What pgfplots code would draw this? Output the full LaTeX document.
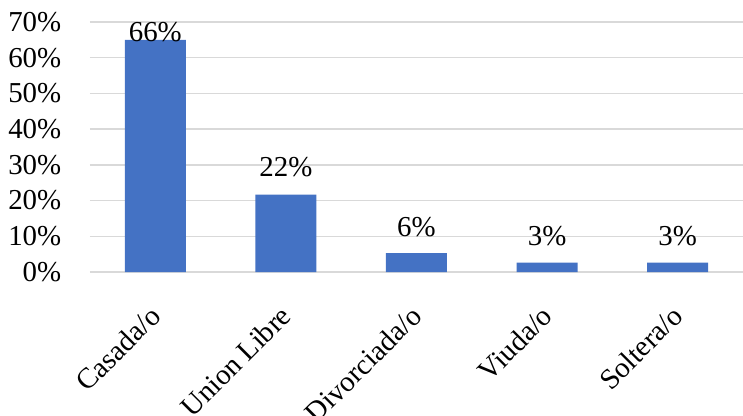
\documentclass[border=0pt]{standalone}
\usepackage{pgfplots}
\pgfplotsset{compat=1.18}
\usepackage{pgfplotstable}
\usepackage{fontspec}
\setmainfont{Liberation Serif}
\definecolor{barblue}{HTML}{4472C4}
\definecolor{gridgray}{HTML}{D9D9D9}

% x, bar height, label height, label text
\pgfplotstableread{
x  y     ly    lab
0  65.0  67.2  66\%
1  21.7  29.4  22\%
2  5.3   12.6  6\%
3  2.6   10.1  3\%
4  2.6   10.1  3\%
}\estadocivil

\begin{document}
\begin{tikzpicture}
\begin{axis}[
    at={(0,0)}, anchor=south west,
    scale only axis,
    width=653bp, height=250bp,
    xmin=-0.5, xmax=4.5,
    ymin=0, ymax=70,
    axis lines*=left,
    axis line style={-, gridgray, line width=1.5pt},
    y axis line style={draw=none},
    ytick={0,10,...,70},
    yticklabels={0\%,10\%,20\%,30\%,40\%,50\%,60\%,70\%},
    ymajorgrids,
    grid style={gridgray, line width=1.5pt},
    ytick style={draw=none},
    xtick={0,1,2,3,4},
    xticklabels={Casada/o,Union Libre,Divorciada/o,Viuda/o,Soltera/o},
    xtick style={draw=none},
    minor xtick={-0.5,0.5,...,4.5},
    minor tick length=8bp,
    tick align=outside,
    every minor tick/.style={gridgray, line width=1.5pt},
    tick label style={font=\fontsize{29}{33}\selectfont},
    yticklabel style={xshift=-21bp},
    xticklabel style={rotate=45, anchor=north east, xshift=-21bp, yshift=-11bp},
    clip=false,
]
\addplot[ybar, bar width=61bp, fill=barblue, draw=none] table[x=x, y=y] {\estadocivil};
\addplot[draw=none, nodes near coords, point meta=explicit symbolic,
    every node near coord/.style={anchor=center, font=\fontsize{29}{33}\selectfont}]
    table[x=x, y=ly, meta=lab] {\estadocivil};
\end{axis}
\pgfresetboundingbox
\path[use as bounding box] (-90bp,-144bp) rectangle (653bp,272bp);
\end{tikzpicture}
\end{document}
